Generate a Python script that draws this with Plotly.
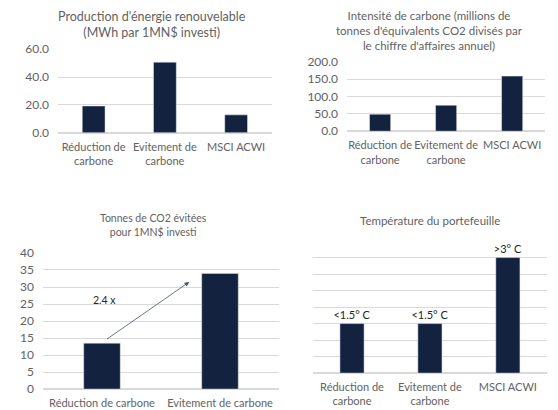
import plotly.graph_objects as go

# ---- data ----
cats3 = ["Réduction de<br>carbone", "Evitement de<br>carbone", "MSCI ACWI"]
energie = [19.3, 50.7, 12.9]
intensite = [49, 75, 159]
cats2 = ["Réduction de carbone", "Evitement de carbone"]
co2_evitees = [13.5, 34.0]
temperature = [1.5, 1.5, 3.5]
temp_labels = ["<1.5° C", "<1.5° C", ">3° C"]

BAR = "#13223f"
TXT = "#626262"
GRID = "#d9d9d9"
FONT = "Lato"

fig = go.Figure()
fig.add_trace(go.Bar(x=cats3, y=energie, marker_color=BAR, width=0.32, xaxis="x", yaxis="y"))
fig.add_trace(go.Bar(x=cats3, y=intensite, marker_color=BAR, width=0.32, xaxis="x2", yaxis="y2"))
fig.add_trace(go.Bar(x=cats2, y=co2_evitees, marker_color=BAR, width=0.31, xaxis="x3", yaxis="y3"))
fig.add_trace(go.Bar(x=cats3, y=temperature, marker_color=BAR, width=0.31, xaxis="x4", yaxis="y4",
                     text=temp_labels, textposition="outside", cliponaxis=False, constraintext="none",
                     outsidetextfont=dict(color="#262626", size=11, family=FONT)))

ax_common = dict(showgrid=False, showline=False, ticks="", tickfont=dict(color=TXT, size=11, family=FONT),
                 fixedrange=True, ticklabelstandoff=6, automargin=False)
ay_common = dict(showgrid=True, gridcolor=GRID, gridwidth=1, zeroline=True, zerolinecolor=GRID,
                 showline=False, ticks="", tickfont=dict(color=TXT, size=12, family=FONT),
                 ticklabelstandoff=8, automargin=False, fixedrange=True)

fig.update_layout(
    width=558, height=410, margin=dict(l=0, r=0, t=0, b=0, autoexpand=False),
    paper_bgcolor="white", plot_bgcolor="white", showlegend=False,
    font=dict(family=FONT, color=TXT),
    xaxis=dict(domain=[0.104, 0.487], anchor="y", range=[-0.5, 2.5], **ax_common),
    yaxis=dict(domain=[0.676, 0.880], anchor="x", range=[0, 60], dtick=20, tickformat=".1f", **ay_common),
    xaxis2=dict(domain=[0.622, 0.977], anchor="y2", range=[-0.5, 2.5], **ax_common),
    yaxis2=dict(domain=[0.680, 0.849], anchor="x2", range=[0, 200], dtick=50, tickformat=".1f", **ay_common),
    xaxis3=dict(domain=[0.077, 0.500], anchor="y3", range=[-0.5, 1.5], **ax_common),
    yaxis3=dict(domain=[0.051, 0.383], anchor="x3", range=[0, 40], dtick=5, **ay_common),
    xaxis4=dict(domain=[0.561, 0.980], anchor="y4", range=[-0.5, 2.5], **ax_common),
    yaxis4=dict(domain=[0.090, 0.412], anchor="x4", range=[0, 4], dtick=0.5, showticklabels=False, **ay_common),
)

fig.add_annotation(text="Production d'énergie renouvelable<br>(MWh par 1MN$ investi)", x=152 / 558, y=1 - 7 / 410,
                   xref="paper", yref="paper", showarrow=False, xanchor="center", yanchor="top",
                   font=dict(color=TXT, size=12.5, family=FONT))
fig.add_annotation(text="Intensité de carbone (millions de<br>tonnes d'équivalents CO2 divisés par<br>le chiffre d'affaires annuel)",
                   x=(280 + 150) / 558, y=1 - 7 / 410, xref="paper", yref="paper", showarrow=False,
                   xanchor="center", yanchor="top", font=dict(color=TXT, size=11.5, family=FONT))
fig.add_annotation(text="Tonnes de CO2 évitées<br>pour 1MN$ investi", x=153 / 558, y=1 - 210 / 410,
                   xref="paper", yref="paper", showarrow=False, xanchor="center", yanchor="top",
                   font=dict(color=TXT, size=10.5, family=FONT))
fig.add_annotation(text="Température du portefeuille", x=430 / 558, y=1 - 212 / 410,
                   xref="paper", yref="paper", showarrow=False, xanchor="center", yanchor="top",
                   font=dict(color=TXT, size=11.5, family=FONT))

# arrow and multiplier
fig.add_annotation(x=0.74, y=31.5, ax=0.03, ay=14.4, xref="x3", yref="y3", axref="x3", ayref="y3",
                   showarrow=True, arrowhead=2, arrowsize=1.2, arrowwidth=0.8, arrowcolor="#44546a", text="")
fig.add_annotation(text="2.4 x", x=0.02, y=26.2, xref="x3", yref="y3", showarrow=False,
                   font=dict(color="#262626", size=10.5, family=FONT))

fig.write_html("out.html", post_script="document.body.style.margin='0';",
               config={"displayModeBar": False})
